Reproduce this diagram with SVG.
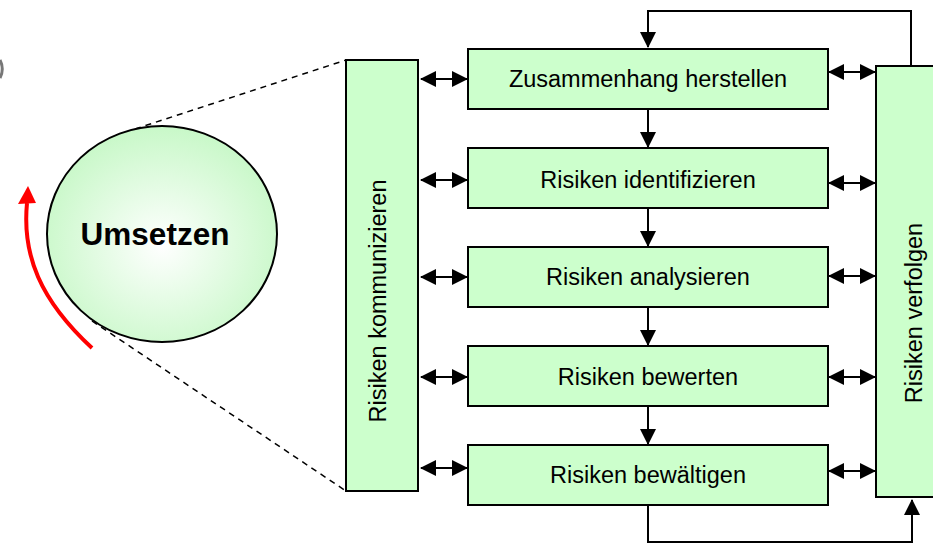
<svg xmlns="http://www.w3.org/2000/svg" width="933" height="544" viewBox="0 0 933 544">
<defs>
<radialGradient id="g" cx="50%" cy="55%" r="55%">
<stop offset="0" stop-color="#ffffff"/>
<stop offset="1" stop-color="#c8f8c8"/>
</radialGradient>
<marker id="ah" viewBox="0 0 16 16" refX="15" refY="8" markerWidth="16" markerHeight="16" markerUnits="userSpaceOnUse" orient="auto-start-reverse">
<path d="M0,0 L16,8 L0,16 Z" fill="#000"/>
</marker>
</defs>
<style>
.box{fill:#ccffcc;stroke:#000;stroke-width:2}
.t{font-family:"Liberation Sans",Arial,sans-serif;font-size:23.5px;fill:#000;text-anchor:middle}
.c{stroke:#000;stroke-width:2;fill:none}
.d{stroke:#000;stroke-width:1.5;fill:none;stroke-dasharray:6,5}
</style>
<path d="M0,60 A20,20 0 0 1 0,78" fill="none" stroke="#777" stroke-width="3"/>
<g id="zoom-lines">
<line class="d" x1="135" y1="129" x2="346" y2="60"/>
<line class="d" x1="92" y1="321" x2="346" y2="491"/>
</g>
<g id="umsetzen">
<ellipse cx="162" cy="234" rx="115" ry="108" fill="url(#g)" stroke="#000" stroke-width="2"/>
<text x="155" y="245" font-family="Liberation Sans,Arial,sans-serif" font-size="31.5" font-weight="bold" text-anchor="middle">Umsetzen</text>
</g>
<g id="cycle-arrow">
<path d="M92,348 C40,300 22,255 27,203" fill="none" stroke="#ff0000" stroke-width="4"/>
<polygon points="28,186 18,204 36,203" fill="#ff0000"/>
</g>
<g id="connectors">
<path class="c" d="M911,66 V11 H648 V47" marker-end="url(#ah)"/>
<path class="c" d="M648,506 V542 H912 V500" marker-end="url(#ah)"/>
<line class="c" x1="648" y1="109" x2="648" y2="147" marker-end="url(#ah)"/>
<line class="c" x1="648" y1="208" x2="648" y2="246" marker-end="url(#ah)"/>
<line class="c" x1="648" y1="307" x2="648" y2="345" marker-end="url(#ah)"/>
<line class="c" x1="648" y1="406" x2="648" y2="444" marker-end="url(#ah)"/>
<line class="c" x1="421" y1="79" x2="467" y2="79" marker-start="url(#ah)" marker-end="url(#ah)"/>
<line class="c" x1="421" y1="180" x2="467" y2="180" marker-start="url(#ah)" marker-end="url(#ah)"/>
<line class="c" x1="421" y1="277" x2="467" y2="277" marker-start="url(#ah)" marker-end="url(#ah)"/>
<line class="c" x1="421" y1="377" x2="467" y2="377" marker-start="url(#ah)" marker-end="url(#ah)"/>
<line class="c" x1="421" y1="468" x2="467" y2="468" marker-start="url(#ah)" marker-end="url(#ah)"/>
<line class="c" x1="829" y1="72" x2="875" y2="72" marker-start="url(#ah)" marker-end="url(#ah)"/>
<line class="c" x1="829" y1="183" x2="875" y2="183" marker-start="url(#ah)" marker-end="url(#ah)"/>
<line class="c" x1="829" y1="276" x2="875" y2="276" marker-start="url(#ah)" marker-end="url(#ah)"/>
<line class="c" x1="829" y1="377" x2="875" y2="377" marker-start="url(#ah)" marker-end="url(#ah)"/>
<line class="c" x1="829" y1="471" x2="875" y2="471" marker-start="url(#ah)" marker-end="url(#ah)"/>
</g>
<g id="kommunizieren">
<rect class="box" x="346" y="60" width="72" height="431"/>
<text class="t" transform="translate(386,301) rotate(-90)">Risiken kommunizieren</text>
</g>
<g id="verfolgen">
<rect class="box" x="876" y="66" width="70" height="431"/>
<text class="t" transform="translate(922,313) rotate(-90)">Risiken verfolgen</text>
</g>
<g id="zusammenhang">
<rect class="box" x="468" y="49" width="360" height="60"/>
<text class="t" x="648" y="87">Zusammenhang herstellen</text>
</g>
<g id="identifizieren">
<rect class="box" x="468" y="148" width="360" height="60"/>
<text class="t" x="648" y="188">Risiken identifizieren</text>
</g>
<g id="analysieren">
<rect class="box" x="468" y="247" width="360" height="60"/>
<text class="t" x="648" y="285">Risiken analysieren</text>
</g>
<g id="bewerten">
<rect class="box" x="468" y="346" width="360" height="60"/>
<text class="t" x="648" y="385">Risiken bewerten</text>
</g>
<g id="bewaeltigen">
<rect class="box" x="468" y="445" width="360" height="60"/>
<text class="t" x="648" y="483">Risiken bewältigen</text>
</g>
</svg>
